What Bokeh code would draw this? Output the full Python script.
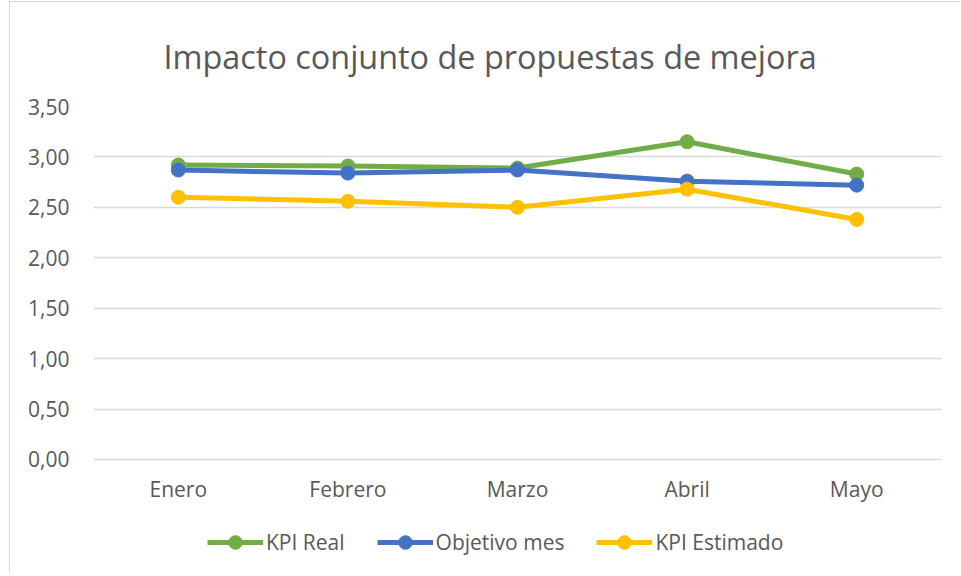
from bokeh.plotting import figure
from bokeh.models import FixedTicker, Legend, LegendItem, Title
from bokeh.embed import file_html
from bokeh.resources import INLINE

months = ["Enero", "Febrero", "Marzo", "Abril", "Mayo"]
kpi_real = [2.92, 2.91, 2.89, 3.15, 2.83]
objetivo_mes = [2.87, 2.84, 2.87, 2.76, 2.72]
kpi_estimado = [2.60, 2.56, 2.50, 2.68, 2.38]
y_ticks = [0.0, 0.5, 1.0, 1.5, 2.0, 2.5, 3.0, 3.5]
y_tick_labels = ["0,00", "0,50", "1,00", "1,50", "2,00", "2,50", "3,00", "3,50"]

series = [
    ("KPI Real", kpi_real, "#70AD47"),
    ("Objetivo mes", objetivo_mes, "#4472C4"),
    ("KPI Estimado", kpi_estimado, "#FFC000"),
]

FONT = "Open Sans"
TXT = "#595959"

# frame extends below 0 so the legend can sit inside it (y range bottom leaves room
# for category labels and legend under the 0,00 line)
p = figure(x_range=months, y_range=(-1.1204, 3.5), width=950, height=572,
           output_backend="svg", toolbar_location=None,
           min_border_left=83, min_border_right=19, min_border_top=97, min_border_bottom=2)
p.title = None
t = Title(text="Impacto conjunto de propuestas de mejora", align="left",
          text_font=FONT, text_font_size="32.4px", text_font_style="normal",
          text_color=TXT, offset=70, standoff=58)
p.add_layout(t, "above")

p.outline_line_color = None
p.styles = {"margin-left": "9px", "margin-top": "1px",
            "border-left": "1px solid #D9D9D9", "border-top": "1px solid #D9D9D9"}
p.background_fill_color = "white"

p.xgrid.grid_line_color = None
p.ygrid.grid_line_color = "#D9D9D9"
p.ygrid.grid_line_width = 1.5

p.yaxis.ticker = FixedTicker(ticks=y_ticks)
p.yaxis.major_label_overrides = {v: s for v, s in zip(y_ticks, y_tick_labels)}
for ax in (p.xaxis, p.yaxis):
    ax.axis_line_color = None
    ax.major_tick_line_color = None
    ax.minor_tick_line_color = None
    ax.major_label_text_font = FONT
    ax.major_label_text_font_size = "21px"
    ax.major_label_text_color = TXT
p.yaxis.major_label_standoff = 18
p.xaxis.major_label_standoff = 10
p.xaxis.fixed_location = 0
p.x_range.range_padding = 0

items = []
for name, vals, col in series:
    l = p.line(months, vals, line_color=col, line_width=5)
    s = p.scatter(months, vals, size=14, fill_color=col, line_color=col)
    items.append(LegendItem(label=name, renderers=[l, s]))

legend = Legend(items=items, orientation="horizontal", location=(114, 13),
                padding=0, margin=0, spacing=32, glyph_width=56, glyph_height=34,
                label_standoff=3, label_text_font=FONT, label_text_font_size="21px",
                label_text_color=TXT, border_line_color=None, background_fill_alpha=0)
p.add_layout(legend, "center")

open("out.html", "w").write(file_html(p, INLINE))
